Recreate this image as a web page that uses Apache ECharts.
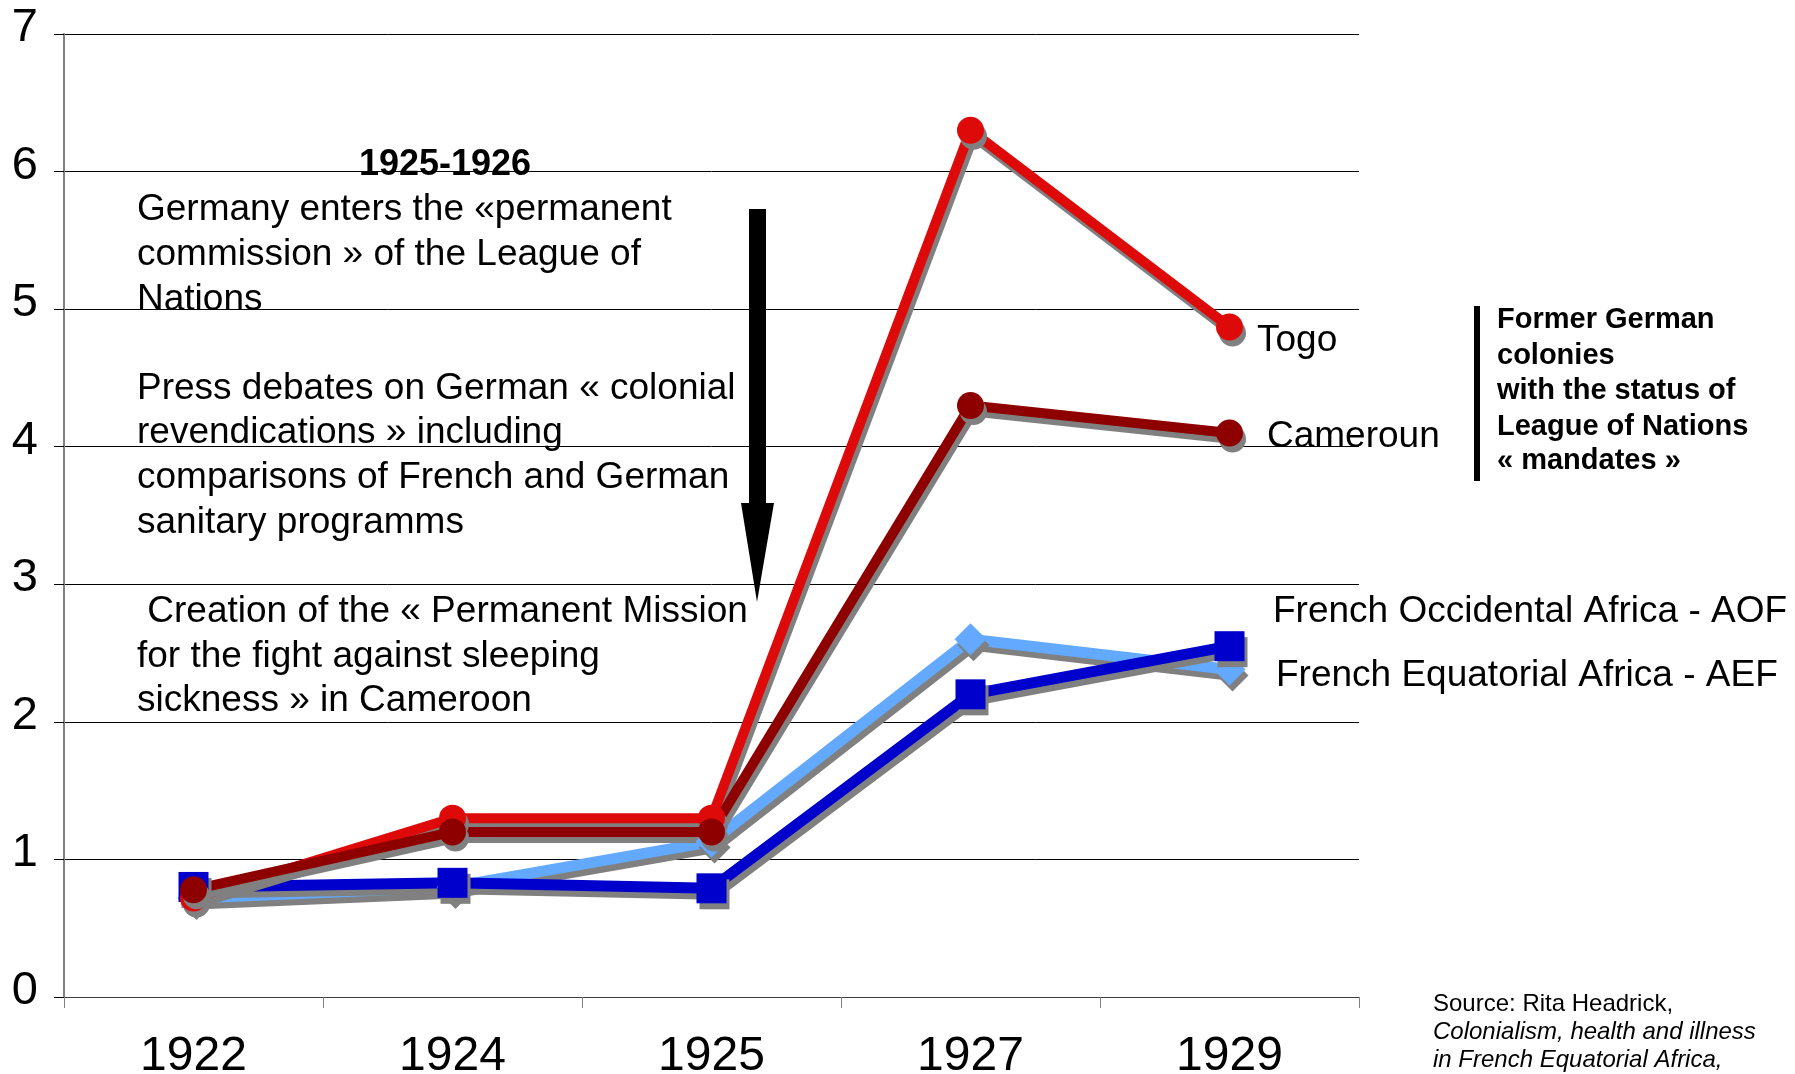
<!DOCTYPE html>
<html>
<head>
<meta charset="utf-8">
<script src="https://cdn.jsdelivr.net/npm/echarts@6/dist/echarts.min.js"></script>
<style>
  html, body { margin: 0; padding: 0; background: #fff; }
  #chart { width: 1795px; height: 1074px; }
</style>
</head>
<body>
<div id="chart"></div>
<script>
const years = ['1922', '1924', '1925', '1927', '1929']
const aof = [0.72, 0.8, 1.13, 2.6, 2.38]
const aef = [0.8, 0.83, 0.79, 2.2, 2.55]
const togo = [0.72, 1.3, 1.3, 6.3, 4.87]
const cameroun = [0.78, 1.2, 1.2, 4.3, 4.1]

const FONT = '"Liberation Sans", Arial, sans-serif'

// gray drop shadow like the old excel chart
const shadow = {
    shadowColor: '#808080',
    shadowBlur: 0,
    shadowOffsetX: 3,
    shadowOffsetY: 6
}

function makeSeries (name, data, color, symbol, size, width) {
    return {
        name,
        type: 'line',
        data,
        symbol,
        symbolSize: size,
        showSymbol: true,
        lineStyle: Object.assign({ color, width }, shadow),
        itemStyle: Object.assign({ color, borderWidth: 0 }, shadow)
    }
}

function txt (text, x, y, size, opts) {
    return {
        type: 'text',
        x,
        y,
        z: 10,
        style: Object.assign({
            text,
            fontSize: size,
            fontFamily: FONT,
            fill: '#000',
            textVerticalAlign: 'middle'
        }, opts || {})
    }
}

const chart = echarts.init(document.getElementById('chart'))
const option = {
    animation: false,
    backgroundColor: '#fff',
    grid: {
        left: 64,
        right: 436,
        top: 34,
        bottom: 77,
        containLabel: false,
        outerBoundsMode: 'none'
    },
    xAxis: {
        type: 'category',
        data: years,
        boundaryGap: true,
        axisLine: { lineStyle: { color: '#404040', width: 1 } },
        axisTick: { show: true, length: 11, lineStyle: { color: '#808080', width: 1 } },
        axisLabel: { fontSize: 48, fontFamily: FONT, color: '#000', margin: 36 }
    },
    yAxis: {
        type: 'value',
        min: 0,
        max: 7,
        interval: 1,
        axisLine: { show: true, lineStyle: { color: '#808080', width: 2 } },
        axisTick: { show: true, length: 10, lineStyle: { color: '#000', width: 1 } },
        axisLabel: {
            margin: 26,
            formatter: v => '{n|' + v + '}',
            rich: {
                n: { fontSize: 47, fontFamily: FONT, color: '#000', padding: [0, 0, 12, 0] }
            }
        },
        splitLine: { show: true, lineStyle: { color: '#000', width: 1 } }
    },
    series: [
        makeSeries('French Occidental Africa - AOF', aof, '#62a9ff', 'diamond', 32, 11),
        makeSeries('French Equatorial Africa - AEF', aef, '#0000cc', 'rect', 30, 11),
        makeSeries('Togo', togo, '#de0a0a', 'circle', 27, 10),
        makeSeries('Cameroun', cameroun, '#8e0000', 'circle', 27, 10)
    ],
    graphic: [
        txt('1925-1926', 445, 165, 36, { fontWeight: 'bold', textAlign: 'center' }),
        txt('Germany enters the «permanent', 137, 210, 37),
        txt('commission » of the League of', 137, 255, 37),
        txt('Nations', 137, 300, 37),
        txt('Press debates on German « colonial', 137, 389, 37),
        txt('revendications » including', 137, 433, 37),
        txt('comparisons of French and German', 137, 478, 37),
        txt('sanitary programms', 137, 523, 37),
        txt(' Creation of the « Permanent Mission', 137, 612, 37),
        txt('for the fight against sleeping', 137, 657, 37),
        txt('sickness » in Cameroon', 137, 701, 37),
        {
            type: 'polygon',
            z: 10,
            shape: {
                points: [[749, 209], [766, 209], [766, 503], [774, 503], [757, 602], [741, 503], [749, 503]]
            },
            style: { fill: '#000' }
        },
        txt('Togo', 1257, 341, 37),
        txt('Cameroun', 1267, 437, 37),
        txt('French Occidental Africa - AOF', 1273, 612, 37),
        txt('French Equatorial Africa - AEF', 1276, 676, 37),
        {
            type: 'rect',
            z: 10,
            shape: { x: 1474, y: 306, width: 6, height: 175 },
            style: { fill: '#000' }
        },
        txt('Former German', 1497, 320, 29, { fontWeight: 'bold' }),
        txt('colonies', 1497, 356, 29, { fontWeight: 'bold' }),
        txt('with the status of', 1497, 391, 29, { fontWeight: 'bold' }),
        txt('League of Nations', 1497, 427, 29, { fontWeight: 'bold' }),
        txt('« mandates »', 1497, 461, 29, { fontWeight: 'bold' }),
        txt('Source: Rita Headrick,', 1433, 1004, 24),
        txt('Colonialism, health and illness', 1433, 1032, 24, { fontStyle: 'italic' }),
        txt('in French Equatorial Africa,', 1433, 1060, 24, { fontStyle: 'italic' })
    ]
}
chart.setOption(option)
</script>
</body>
</html>
